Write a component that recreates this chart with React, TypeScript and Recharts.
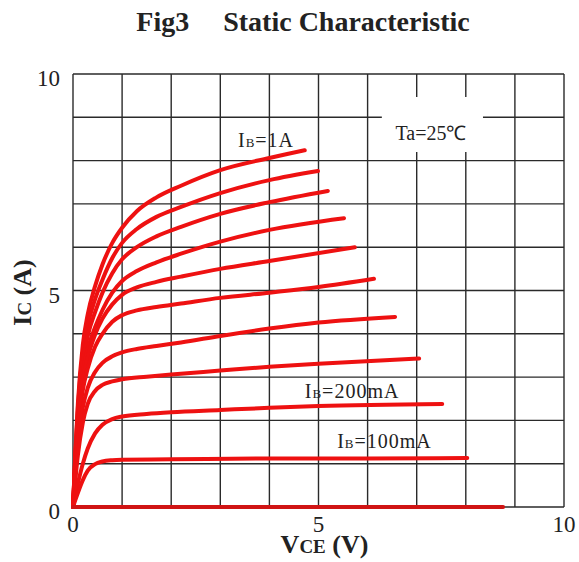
import React from "react";
import {
  LineChart, Line, XAxis, YAxis, CartesianGrid,
  ReferenceArea, ReferenceDot,
} from "recharts";

// Static characteristic, Ta = 25°C. Ic vs Vce, one curve per base current.
const SERIF = '"Liberation Serif", "Times New Roman", serif';
const RED = "#ee1111";
const INK = "#222";

const gridTicks = [0, 1, 2, 3, 4, 5, 6, 7, 8, 9, 10];
const labelTicks = [0, 5, 10];

// base currents, top curve first
const baseCurrents = ["1A", "900mA", "800mA", "700mA", "600mA", "500mA", "400mA", "300mA", "200mA", "100mA", "0"];

// Vce (V) / Ic (A)
const vce1000 = [0, 0.05, 0.1, 0.2, 0.3, 0.45, 0.6, 0.8, 1.0, 1.3, 1.7, 2.2, 3, 4, 4.72];
const ic1000  = [0, 1.3, 2.4, 3.75, 4.45, 5.1, 5.6, 6.1, 6.45, 6.83, 7.15, 7.42, 7.78, 8.06, 8.24];
const vce900  = [0, 0.05, 0.1, 0.2, 0.3, 0.45, 0.6, 0.8, 1.0, 1.3, 1.7, 2.2, 3, 4, 4.99];
const ic900   = [0, 1.25, 2.3, 3.55, 4.2, 4.8, 5.25, 5.75, 6.1, 6.42, 6.7, 6.93, 7.25, 7.55, 7.76];
const vce800  = [0, 0.05, 0.1, 0.2, 0.3, 0.45, 0.6, 0.8, 1.0, 1.3, 1.7, 2.2, 3, 4, 5.19];
const ic800   = [0, 1.2, 2.2, 3.35, 3.95, 4.5, 4.95, 5.4, 5.72, 6.0, 6.25, 6.47, 6.77, 7.04, 7.3];
const vce700  = [0, 0.05, 0.1, 0.2, 0.3, 0.45, 0.6, 0.8, 1.0, 1.3, 1.7, 2.2, 3, 4, 5.52];
const ic700   = [0, 1.1, 2.05, 3.1, 3.65, 4.15, 4.55, 4.95, 5.22, 5.45, 5.65, 5.85, 6.13, 6.4, 6.67];
const vce600  = [0, 0.05, 0.1, 0.2, 0.3, 0.45, 0.6, 0.8, 1.0, 1.3, 1.7, 2.2, 3, 4, 5.74];
const ic600   = [0, 1.0, 1.9, 2.9, 3.45, 3.98, 4.35, 4.68, 4.9, 5.07, 5.2, 5.32, 5.5, 5.68, 6.0];
const vce500  = [0, 0.05, 0.1, 0.2, 0.3, 0.45, 0.6, 0.8, 1.0, 1.3, 1.7, 2.2, 3, 4, 5, 6.13];
const ic500   = [0, 0.95, 1.8, 2.7, 3.2, 3.7, 4.0, 4.28, 4.43, 4.54, 4.62, 4.7, 4.83, 4.95, 5.08, 5.27];
const vce400  = [0, 0.05, 0.1, 0.2, 0.3, 0.45, 0.6, 0.8, 1.0, 1.3, 1.7, 2.2, 3, 4, 5, 6.56];
const ic400   = [0, 0.8, 1.5, 2.3, 2.75, 3.12, 3.33, 3.48, 3.57, 3.65, 3.72, 3.8, 3.95, 4.12, 4.26, 4.39];
const vce300  = [0, 0.05, 0.1, 0.2, 0.3, 0.45, 0.6, 0.8, 1.0, 1.5, 2, 3, 4, 5, 7.05];
const ic300   = [0, 0.65, 1.2, 1.95, 2.38, 2.68, 2.82, 2.9, 2.95, 3.01, 3.06, 3.15, 3.24, 3.31, 3.43];
const vce200  = [0, 0.05, 0.1, 0.2, 0.3, 0.45, 0.6, 0.8, 1.0, 1.5, 2, 3, 4, 5, 7.52];
const ic200   = [0, 0.3, 0.55, 1.0, 1.35, 1.7, 1.9, 2.03, 2.09, 2.15, 2.19, 2.24, 2.29, 2.33, 2.38];
const vce100  = [0, 0.05, 0.1, 0.2, 0.3, 0.45, 0.6, 0.8, 1.0, 2, 4, 6, 8.03];
const ic100   = [0, 0.17, 0.33, 0.62, 0.84, 0.99, 1.05, 1.08, 1.09, 1.1, 1.12, 1.12, 1.13];
const vce0    = [0, 8.76];
const ic0     = [0, 0];

const vceSets = [vce1000, vce900, vce800, vce700, vce600, vce500, vce400, vce300, vce200, vce100, vce0];
const icSets  = [ic1000, ic900, ic800, ic700, ic600, ic500, ic400, ic300, ic200, ic100, ic0];

const curves = baseCurrents.map((ib, i) => ({
  ib,
  points: vceSets[i].map((v, j) => ({ vce: v, ic: icSets[i][j] })),
}));

function XTick({ x, y, payload }: any) {
  if (!labelTicks.includes(payload.value)) return <g />;
  return (
    <text x={x} y={y + 17} textAnchor="middle" fontFamily={SERIF} fontSize={23} fill={INK}>
      {payload.value}
    </text>
  );
}

function YTick({ x, y, payload }: any) {
  if (!labelTicks.includes(payload.value)) return <g />;
  return (
    <text x={x - 5} y={y + 12} textAnchor="end" fontFamily={SERIF} fontSize={23} fill={INK}>
      {payload.value}
    </text>
  );
}

function XTitle({ viewBox }: any) {
  const cx = viewBox ? viewBox.x + viewBox.width / 2 + 6 : 324;
  const y = viewBox ? viewBox.y + 46 : 553;
  return (
    <text x={cx} y={y} textAnchor="middle" fontFamily={SERIF} fontWeight="bold" fontSize={26} fill={INK}>
      <tspan>V</tspan>
      <tspan fontSize={19}>CE</tspan>
      <tspan> (V)</tspan>
    </text>
  );
}

function YTitle({ viewBox }: any) {
  const cy = viewBox ? viewBox.y + viewBox.height / 2 + 2 : 291;
  const x = 31;
  return (
    <text x={x} y={cy} transform={`rotate(-90 ${x} ${cy})`} textAnchor="middle"
      fontFamily={SERIF} fontWeight="bold" fontSize={26} fill={INK}>
      <tspan>I</tspan>
      <tspan fontSize={19}>C</tspan>
      <tspan> (A)</tspan>
    </text>
  );
}

// "I_B=..." curve label, anchored at its left baseline
function IbLabel({ cx, cy, value }: any) {
  return (
    <text x={cx} y={cy} fontFamily={SERIF} fontSize={20} fill={INK} letterSpacing={1}>
      <tspan>I</tspan>
      <tspan fontSize={13}>B</tspan>
      <tspan>={value}</tspan>
    </text>
  );
}

export default function App() {
  return (
    <div style={{ position: "absolute", left: 0, top: 0, width: 579, height: 562, background: "#fff" }}>
      <div
        style={{
          position: "absolute", left: 0, top: 6, width: 579, paddingLeft: 27, boxSizing: "border-box",
          textAlign: "center", fontFamily: SERIF, fontWeight: "bold", fontSize: 28, color: INK,
          whiteSpace: "pre",
        }}
      >
        Fig3<span style={{ marginLeft: 34 }}>Static Characteristic</span>
      </div>

      <LineChart width={579} height={562} margin={{ top: 74, right: 15, bottom: 20, left: 40 }}>
        <CartesianGrid stroke="#2a2a2a" strokeWidth={1.4} />
        <XAxis
          type="number" dataKey="vce" domain={[0, 10]} ticks={gridTicks} interval={0}
          axisLine={false} tickLine={false} height={35}
          tick={<XTick />} label={<XTitle />}
        />
        <YAxis
          type="number" dataKey="ic" domain={[0, 10]} ticks={gridTicks} interval={0}
          axisLine={false} tickLine={false} width={33}
          tick={<YTick />} label={<YTitle />}
        />

        {/* white box behind the temperature note */}
        <ReferenceArea x1={6.29} x2={8.35} y1={8.2} y2={9.47} fill="#fff" fillOpacity={1} stroke="none" />

        {curves.map((c) => (
          <Line
            key={c.ib}
            data={c.points}
            dataKey="ic"
            type="monotone"
            stroke={c.ib === "0" ? "#d01414" : RED}
            strokeWidth={4}
            strokeLinecap="round"
            strokeLinejoin="round"
            dot={false}
            activeDot={false}
            isAnimationActive={false}
          />
        ))}

        <ReferenceDot x={3.36} y={8.31} r={0} shape={(p: any) => <IbLabel {...p} value="1A" />} />
        <ReferenceDot x={4.72} y={2.52} r={0} shape={(p: any) => <IbLabel {...p} value="200mA" />} />
        <ReferenceDot x={5.38} y={1.36} r={0} shape={(p: any) => <IbLabel {...p} value="100mA" />} />
        <ReferenceDot
          x={7.29} y={8.48} r={0}
          shape={(p: any) => (
            <text x={p.cx} y={p.cy} textAnchor="middle" fontFamily={SERIF} fontSize={20} fill={INK}>
              Ta=25℃
            </text>
          )}
        />
      </LineChart>
    </div>
  );
}
